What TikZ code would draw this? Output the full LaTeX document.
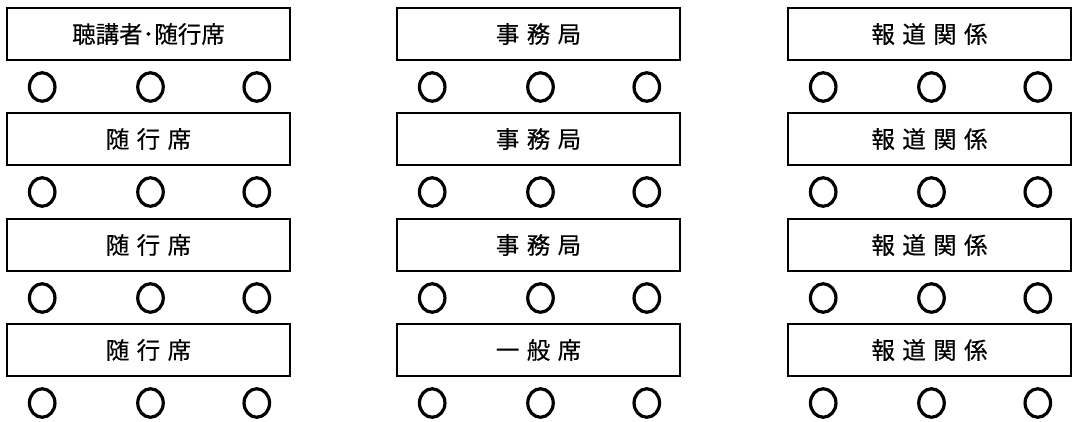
\documentclass[tikz,border=0pt]{standalone}
\usepackage{fontspec}
\setmainfont{Noto Sans CJK JP}[WordSpace=1.4,FakeBold=0.4]
\usetikzlibrary{calc}
\usetikzlibrary{positioning}
\usetikzlibrary{shapes.geometric}

\tikzset{seat/.style={draw,line width=2pt,minimum width=283pt,minimum height=52pt,inner sep=0pt,font=\fontsize{23.5}{23.5}\selectfont},
chair/.style={draw,ellipse,line width=3.2pt,minimum width=25.5pt,minimum height=28.5pt,inner sep=0pt}}

\begin{document}
\begin{tikzpicture}[x=1pt,y=-1pt]
\useasboundingbox (0,0) rectangle (1073,421);

\node[seat] (a1) at (148.5,34) {聴講者･随行席};
\node[seat] (a2) at (148.5,139) {随 行 席};
\node[seat] (a3) at (148.5,245) {随 行 席};
\node[seat] (a4) at (148.5,350) {随 行 席};

\node[seat] (b1) at (538.5,34) {事 務 局};
\node[seat] (b2) at (538.5,139) {事 務 局};
\node[seat] (b3) at (538.5,245) {事 務 局};
\node[seat] (b4) at (538.5,350) {一 般 席};

\node[seat] (c1) at (929.5,34) {報 道 関 係};
\node[seat] (c2) at (929.5,139) {報 道 関 係};
\node[seat] (c3) at (929.5,245) {報 道 関 係};
\node[seat] (c4) at (929.5,350) {報 道 関 係};

\foreach \s in {a1,a2,a3,a4,b1,b2,b3,b4,c1,c2,c3,c4}{
\node[chair] (\s-l) at ($(\s.south west)!0.127!(\s.south east)+(0,26)$) {};
\node[chair] (\s-m) at ($(\s.south west)!0.507!(\s.south east)+(0,26)$) {};
\node[chair] (\s-r) at ($(\s.south west)!0.88!(\s.south east)+(0,26)$) {};
}

\end{tikzpicture}
\end{document}
